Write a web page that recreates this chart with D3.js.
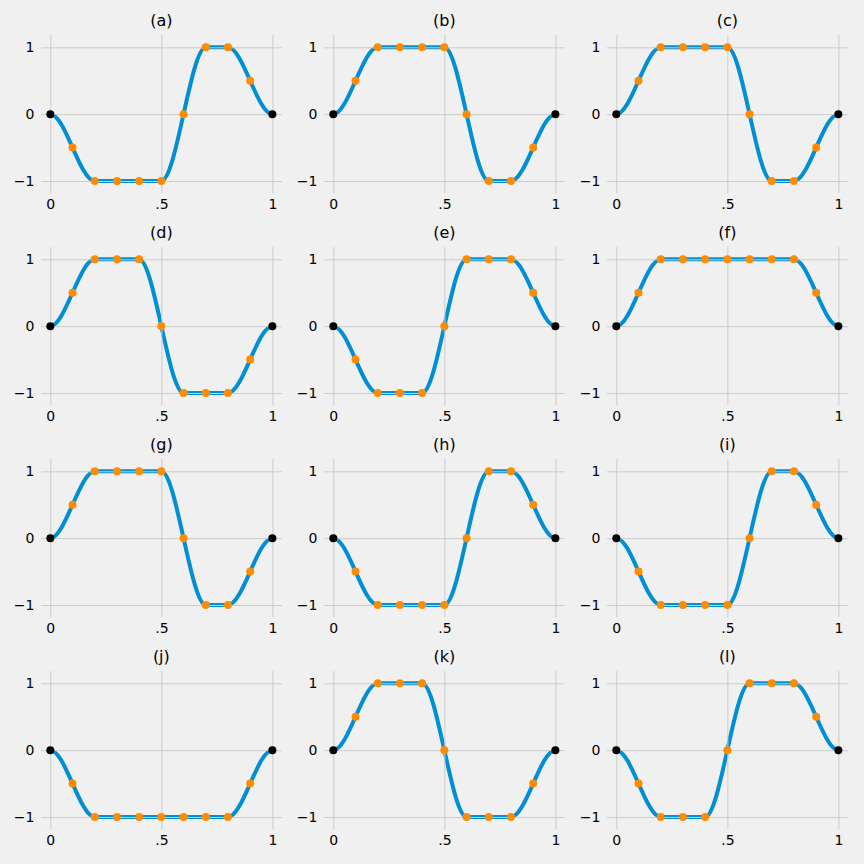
<!DOCTYPE html>
<html>
<head>
<meta charset="utf-8">
<script src="https://cdn.jsdelivr.net/npm/d3@7"></script>
<style>
  html, body { margin: 0; padding: 0; background: #f0f0f0; }
  svg { display: block; }
  text { font-family: "DejaVu Sans", sans-serif; fill: #000; }
</style>
</head>
<body>
<svg id="chart" width="864" height="864"></svg>
<script>
// ---- data ----
const panelTitles = ["(a)", "(b)", "(c)", "(d)", "(e)", "(f)", "(g)", "(h)", "(i)", "(j)", "(k)", "(l)"];
const xValues = [0, 0.1, 0.2, 0.3, 0.4, 0.5, 0.6, 0.7, 0.8, 0.9, 1];
const seriesA = [0, -0.5, -1, -1, -1, -1, 0, 1, 1, 0.5, 0];
const seriesB = [0, 0.5, 1, 1, 1, 1, 0, -1, -1, -0.5, 0];
const seriesC = [0, 0.5, 1, 1, 1, 1, 0, -1, -1, -0.5, 0];
const seriesD = [0, 0.5, 1, 1, 1, 0, -1, -1, -1, -0.5, 0];
const seriesE = [0, -0.5, -1, -1, -1, 0, 1, 1, 1, 0.5, 0];
const seriesF = [0, 0.5, 1, 1, 1, 1, 1, 1, 1, 0.5, 0];
const seriesG = [0, 0.5, 1, 1, 1, 1, 0, -1, -1, -0.5, 0];
const seriesH = [0, -0.5, -1, -1, -1, -1, 0, 1, 1, 0.5, 0];
const seriesI = [0, -0.5, -1, -1, -1, -1, 0, 1, 1, 0.5, 0];
const seriesJ = [0, -0.5, -1, -1, -1, -1, -1, -1, -1, -0.5, 0];
const seriesK = [0, 0.5, 1, 1, 1, 0, -1, -1, -1, -0.5, 0];
const seriesL = [0, -0.5, -1, -1, -1, 0, 1, 1, 1, 0.5, 0];
const allSeries = [seriesA, seriesB, seriesC, seriesD, seriesE, seriesF, seriesG, seriesH, seriesI, seriesJ, seriesK, seriesL];
const xTicks = [0, 0.5, 1];
const xTickLabels = ["0", ".5", "1"];
const yTicks = [-1, 0, 1];
const yTickLabels = ["\u22121", "0", "1"];

// ---- custom curve: cubic Hermite with flat ends ----
function SmoothHermite(context) { this._context = context; }
SmoothHermite.prototype = {
  areaStart() { this._line = 0; },
  areaEnd() { this._line = NaN; },
  lineStart() { this._x = []; this._y = []; },
  point(x, y) { this._x.push(+x); this._y.push(+y); },
  lineEnd() {
    const xs = this._x, ys = this._y, n = xs.length, c = this._context;
    if (!n) return;
    const t = new Array(n).fill(0);
    for (let i = 1; i < n - 1; i++) {
      const s0 = (ys[i] - ys[i - 1]) / (xs[i] - xs[i - 1]);
      const s1 = (ys[i + 1] - ys[i]) / (xs[i + 1] - xs[i]);
      if (s0 * s1 > 0) t[i] = 1.5 * Math.sign(s0) * Math.min(Math.abs(s0), Math.abs(s1));
    }
    if (this._line) c.lineTo(xs[0], ys[0]); else c.moveTo(xs[0], ys[0]);
    for (let i = 0; i < n - 1; i++) {
      const h = (xs[i + 1] - xs[i]) / 3;
      c.bezierCurveTo(xs[i] + h, ys[i] + t[i] * h, xs[i + 1] - h, ys[i + 1] - t[i + 1] * h, xs[i + 1], ys[i + 1]);
    }
    this._line = 1 - this._line;
  }
};
const curveSmooth = ctx => new SmoothHermite(ctx);

// ---- layout ----
const svg = d3.select("#chart");
const axW = 240.7, axH = 158.3;
const colStep = 283, rowStep = 212;
const left0 = 41, top0 = 35;
const blue = "#008fd5", orange = "#ff8c00", grid = "#cbcbcb";

allSeries.forEach((vals, k) => {
  const col = k % 3, row = Math.floor(k / 3);
  const g = svg.append("g").attr("transform", `translate(${left0 + col * colStep},${top0 + row * rowStep})`);
  const x = d3.scaleLinear().domain([-0.042, 1.042]).range([0, axW]);
  const y = d3.scaleLinear().domain([-1.184, 1.184]).range([axH, 0]);
  const data = xValues.map((xv, i) => ({ x: xv, y: vals[i] }));

  const line = d3.line().x(d => x(d.x)).y(d => y(d.y)).curve(curveSmooth);
  g.append("path").datum(data).attr("d", line)
    .attr("fill", "none").attr("stroke", blue).attr("stroke-width", 4)
    .attr("stroke-linecap", "butt");

  // grid (drawn above the line, below markers)
  const xAxis = d3.axisBottom(x).tickValues(xTicks).tickFormat((d, i) => xTickLabels[i])
    .tickSize(-axH).tickPadding(6);
  const gx = g.append("g").attr("transform", `translate(0,${axH})`).call(xAxis);
  const yAxis = d3.axisLeft(y).tickValues(yTicks).tickFormat((d, i) => yTickLabels[i])
    .tickSize(-axW).tickPadding(6.5);
  const gy = g.append("g").call(yAxis);
  [gx, gy].forEach(a => {
    a.select(".domain").remove();
    a.selectAll(".tick line").attr("stroke", grid).attr("stroke-width", 1);
    a.selectAll(".tick text").style("font-size", "14px").attr("fill", "#000");
  });

  g.selectAll("circle.pt").data(data).join("circle").attr("class", "pt")
    .attr("cx", d => x(d.x)).attr("cy", d => y(d.y)).attr("r", 4)
    .attr("fill", (d, i) => (i === 0 || i === data.length - 1) ? "#000" : orange);

  g.append("text").attr("x", axW / 2).attr("y", -8.7)
    .attr("text-anchor", "middle").style("font-size", "16px").text(panelTitles[k]);
});
</script>
</body>
</html>
